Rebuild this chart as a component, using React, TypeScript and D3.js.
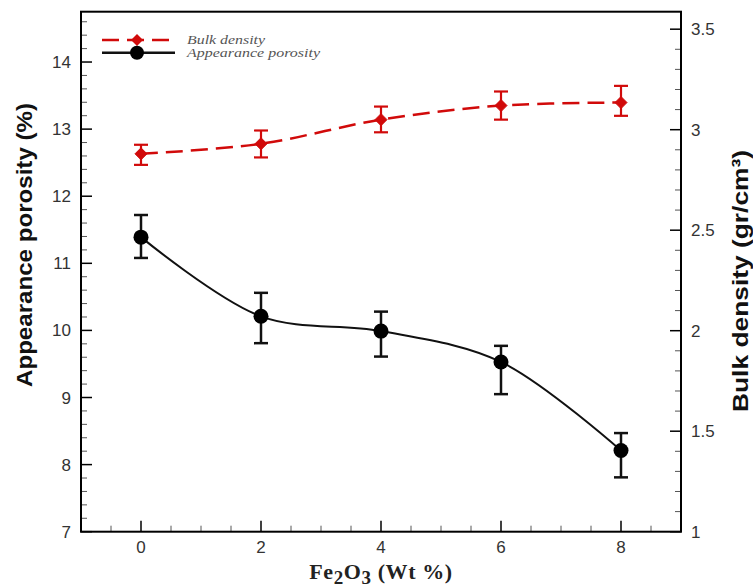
import React from "react";
import * as d3 from "d3";

const xValues = [0, 2, 4, 6, 8];
const porosity = [11.39, 10.21, 9.99, 9.53, 8.21];
const porosityErrUp = [0.33, 0.35, 0.29, 0.24, 0.26];
const porosityErrDown = [0.31, 0.4, 0.38, 0.48, 0.4];
const density = [2.88, 2.93, 3.05, 3.12, 3.135];
const densityErrUp = [0.045, 0.066, 0.065, 0.07, 0.083];
const densityErrDown = [0.055, 0.068, 0.063, 0.07, 0.066];

const xTicks = [0, 2, 4, 6, 8];
const leftTicks = [7, 8, 9, 10, 11, 12, 13, 14];
const rightTicks = [1, 1.5, 2, 2.5, 3, 3.5];

const W = 753;
const H = 588;
const L = 81;
const R = 681;
const T = 11.7;
const B = 531.7;

export default function App() {
  const x = d3.scaleLinear().domain([-1, 9]).range([L, R]);
  const yL = d3.scaleLinear().domain([7, 14.75]).range([B, T]);
  const yR = d3.scaleLinear().domain([1, 3.587]).range([B, T]);

  const xMinor = d3.range(-0.5, 8.6, 0.5).filter((v) => Math.abs(v / 2 - Math.round(v / 2)) > 1e-6);
  const lMinor = d3.range(7, 14.75, 0.2).filter((v) => Math.abs(v - Math.round(v)) > 1e-6);
  const rMinor = d3.range(1, 3.58, 0.1).filter((v) => Math.abs(v * 2 - Math.round(v * 2)) > 1e-6);

  const black = xValues.map((v, i) => [x(v), yL(porosity[i])] as [number, number]);
  const red = xValues.map((v, i) => [x(v), yR(density[i])] as [number, number]);
  const line = d3.line().curve(d3.curveCatmullRom.alpha(0.5));

  const major = 11;
  const minor = 6;
  const tickFont = "'Liberation Sans', Arial, sans-serif";
  const redColor = "#d10a0a";
  const diamond = (cx: number, cy: number, r: number) =>
    `M${cx},${cy - r}L${cx + r},${cy}L${cx},${cy + r}L${cx - r},${cy}Z`;

  return (
    <div style={{ position: "absolute", left: 0, top: 0 }}>
      <svg width={W} height={H} style={{ display: "block", background: "#fff" }}>
        {/* ticks */}
        <g stroke="#000" strokeWidth={1.5}>
          {xTicks.map((v) => (
            <line key={"xm" + v} x1={x(v)} x2={x(v)} y1={B} y2={B - major} />
          ))}
          {xMinor.map((v) => (
            <line key={"xn" + v} x1={x(v)} x2={x(v)} y1={B} y2={B - minor} strokeWidth={1} stroke="#555" />
          ))}
          {leftTicks.map((v) => (
            <line key={"lm" + v} x1={L} x2={L + major} y1={yL(v)} y2={yL(v)} />
          ))}
          {lMinor.map((v) => (
            <line key={"ln" + v.toFixed(2)} x1={L} x2={L + minor} y1={yL(v)} y2={yL(v)} strokeWidth={1} stroke="#555" />
          ))}
          {rightTicks.map((v) => (
            <line key={"rm" + v} x1={R} x2={R - major} y1={yR(v)} y2={yR(v)} />
          ))}
          {rMinor.map((v) => (
            <line key={"rn" + v.toFixed(2)} x1={R} x2={R - minor} y1={yR(v)} y2={yR(v)} strokeWidth={1} stroke="#555" />
          ))}
        </g>
        {/* frame */}
        <rect x={L} y={T} width={R - L} height={B - T} fill="none" stroke="#000" strokeWidth={2} />

        {/* tick labels */}
        <g fontFamily={tickFont} fontSize={17} fill="#333">
          {xTicks.map((v) => (
            <text key={"xl" + v} x={x(v)} y={B + 21.5} textAnchor="middle">
              {v}
            </text>
          ))}
          {leftTicks.map((v) => (
            <text key={"ll" + v} x={L - 10} y={yL(v) + 6} textAnchor="end">
              {v}
            </text>
          ))}
          {rightTicks.map((v) => (
            <text key={"rl" + v} x={R + 10} y={yR(v) + 6} textAnchor="start">
              {v}
            </text>
          ))}
        </g>

        {/* axis titles */}
        <text
          transform={`translate(32,245) rotate(-90)`}
          textAnchor="middle"
          fontFamily={tickFont}
          fontWeight="bold"
          fontSize={22}
          fill="#111"
          textLength={284}
          lengthAdjust="spacingAndGlyphs"
        >
          Appearance porosity (%)
        </text>
        <text
          transform={`translate(748,281) rotate(-90)`}
          textAnchor="middle"
          fontFamily={tickFont}
          fontWeight="bold"
          fontSize={22}
          fill="#111"
          textLength={262}
          lengthAdjust="spacingAndGlyphs"
        >
          Bulk density (gr/cm³)
        </text>
        <text
          x={381}
          y={579}
          textAnchor="middle"
          fontFamily="'Liberation Serif', 'Times New Roman', serif"
          fontWeight="bold"
          fontSize={22}
          letterSpacing={0.6}
          fill="#222"
        >
          Fe<tspan dy={5} fontSize={19}>2</tspan>
          <tspan dy={-5}>O</tspan>
          <tspan dy={5} fontSize={19}>3</tspan>
          <tspan dy={-5}> (Wt %)</tspan>
        </text>

        {/* bulk density series */}
        <path d={line(red) ?? ""} fill="none" stroke={redColor} strokeWidth={2.5} strokeDasharray="17,8" />
        {xValues.map((v, i) => {
          const cx = x(v);
          const top = yR(density[i] + densityErrUp[i]);
          const bot = yR(density[i] - densityErrDown[i]);
          return (
            <g key={"re" + v} stroke={redColor} strokeWidth={2.2}>
              <line x1={cx} x2={cx} y1={top} y2={bot} />
              <line x1={cx - 7} x2={cx + 7} y1={top} y2={top} />
              <line x1={cx - 7} x2={cx + 7} y1={bot} y2={bot} />
            </g>
          );
        })}
        {red.map(([cx, cy], i) => (
          <path key={"rd" + i} d={diamond(cx, cy, 6)} fill={redColor} stroke={redColor} strokeWidth={1} />
        ))}

        {/* porosity series */}
        <path d={line(black) ?? ""} fill="none" stroke="#111" strokeWidth={2} />
        {xValues.map((v, i) => {
          const cx = x(v);
          const top = yL(porosity[i] + porosityErrUp[i]);
          const bot = yL(porosity[i] - porosityErrDown[i]);
          return (
            <g key={"be" + v} stroke="#111" strokeWidth={2.5}>
              <line x1={cx} x2={cx} y1={top} y2={bot} />
              <line x1={cx - 7} x2={cx + 7} y1={top} y2={top} />
              <line x1={cx - 7} x2={cx + 7} y1={bot} y2={bot} />
            </g>
          );
        })}
        {black.map(([cx, cy], i) => (
          <circle key={"bc" + i} cx={cx} cy={cy} r={7.5} fill="#000" />
        ))}

        {/* legend */}
        <line x1={102} x2={172} y1={40} y2={40} stroke={redColor} strokeWidth={2.5} strokeDasharray="17,8" />
        <path d={diamond(137, 40, 6)} fill={redColor} />
        <line x1={102} x2={175} y1={52.7} y2={52.7} stroke="#111" strokeWidth={2.5} />
        <circle cx={137} cy={52.7} r={7} fill="#000" />
        <g fontFamily="'Liberation Serif', 'Times New Roman', serif" fontStyle="italic" fontSize={11.5} fill="#555">
          <text x={187} y={43.5} textLength={78} lengthAdjust="spacingAndGlyphs">
            Bulk density
          </text>
          <text x={187} y={56.5} textLength={133} lengthAdjust="spacingAndGlyphs">
            Appearance porosity
          </text>
        </g>
      </svg>
    </div>
  );
}
